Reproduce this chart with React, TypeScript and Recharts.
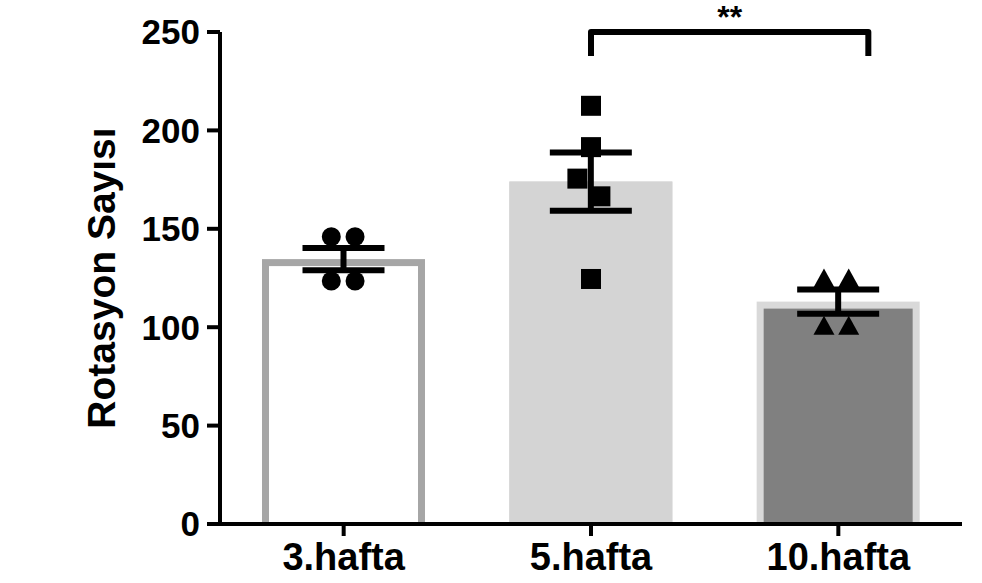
import React from 'react';
import { ComposedChart, Bar, XAxis, YAxis, Scatter, ErrorBar, ReferenceLine, Label } from 'recharts';

// ---- data ----
const categories = ['3.hafta', '5.hafta', '10.hafta'];
const means = [134.6, 174.0, 113.0];
const sems = [5.7, 14.8, 6.2];
const week3Points = [146, 146, 123.5, 123.5];
const week5Points = [212.5, 191.5, 175.5, 166.5, 124.5];
const week10Points = [125, 125, 101, 101];
const week3Jitter = [-0.05, 0.046, -0.05, 0.046];
const week5Jitter = [0, 0, -0.055, 0.038, 0];
const week10Jitter = [-0.058, 0.042, -0.058, 0.042];
const yTicks = [0, 50, 100, 150, 200, 250];
const yLabel = 'Rotasyon Sayısı';
const significance = { from: '5.hafta', to: '10.hafta', level: 250, text: '**' };

// ---- styles ----
const FONT = '"Liberation Sans", Arial, sans-serif';
const BAR_STYLES = [
  { fill: '#ffffff', border: '#a6a6a6', bw: 7 },
  { fill: '#d4d4d4', border: '#d4d4d4', bw: 0 },
  { fill: '#808080', border: '#d9d9d9', bw: 7 },
];

const barData = categories.map((c, i) => ({ name: c, mean: means[i], sem: sems[i] }));
const toPoints = (vals: number[], jit: number[], gi: number) =>
  vals.map((v, i) => ({ x: gi + jit[i], y: v }));
const pts3 = toPoints(week3Points, week3Jitter, 0);
const pts5 = toPoints(week5Points, week5Jitter, 1);
const pts10 = toPoints(week10Points, week10Jitter, 2);

const BarShape = (props: any) => {
  const { x, y, width, height, payload } = props;
  const idx = Math.max(0, categories.indexOf(payload?.name));
  const s = BAR_STYLES[idx];
  return (
    <g>
      <rect x={x} y={y} width={width} height={height} fill={s.border} />
      <rect
        x={x + s.bw}
        y={y + s.bw}
        width={Math.max(0, width - 2 * s.bw)}
        height={Math.max(0, height - s.bw)}
        fill={s.fill}
      />
    </g>
  );
};

const CircleShape = (p: any) => <circle cx={p.cx} cy={p.cy} r={9.5} fill="#000" />;
const SquareShape = (p: any) => <rect x={p.cx - 10} y={p.cy - 10} width={20} height={20} fill="#000" />;
const TriangleShape = (p: any) => (
  <polygon
    points={`${p.cx},${p.cy - 9.5} ${p.cx - 10.5},${p.cy + 9.5} ${p.cx + 10.5},${p.cy + 9.5}`}
    fill="#000"
  />
);

const BracketShape = (p: any) => {
  const { x1, y1, x2 } = p;
  const right = x2 + 30;
  const d = `M${x1},${y1 + 24} L${x1},${y1} L${right},${y1} L${right},${y1 + 24}`;
  return (
    <g>
      <path d={d} stroke="#000" strokeWidth={6} fill="none" strokeLinejoin="round" />
      <text
        x={(x1 + right) / 2}
        y={y1 - 4}
        textAnchor="middle"
        fontFamily={FONT}
        fontWeight="bold"
        fontSize={32}
        fill="#000"
      >
        {significance.text}
      </text>
    </g>
  );
};

const YLabelContent = (props: any) => {
  const vb = props.viewBox || { x: 0, y: 0, width: 0, height: 0 };
  const cx = vb.x + 101;
  const cy = vb.y + vb.height / 2;
  return (
    <text
      x={cx}
      y={cy}
      dy="0.355em"
      transform={`rotate(-90 ${cx} ${cy})`}
      textAnchor="middle"
      fontFamily={FONT}
      fontWeight="bold"
      fontSize={39}
      fill="#000"
    >
      {yLabel}
    </text>
  );
};

export default function App() {
  return (
    <div style={{ position: 'absolute', left: 0, top: 0, width: 982, height: 583, background: '#fff' }}>
      <ComposedChart
        width={982}
        height={583}
        data={barData}
        margin={{ top: 32, right: 20, bottom: 0, left: 0 }}
        barSize={163}
      >
        <XAxis
          dataKey="name"
          type="category"
          height={59}
          padding={{ left: 0, right: 0 }}
          axisLine={{ stroke: '#000', strokeWidth: 4 }}
          tickLine={{ stroke: '#000', strokeWidth: 4 }}
          tickSize={12}
          tickMargin={7}
          tick={{ fill: '#000', fontSize: 38, fontWeight: 'bold', fontFamily: FONT }}
          interval={0}
        />
        <XAxis xAxisId="num" dataKey="x" type="number" domain={[-0.5, 2.5]} hide allowDataOverflow />
        <YAxis
          width={220}
          domain={[0, 250]}
          ticks={yTicks}
          interval={0}
          axisLine={{ stroke: '#000', strokeWidth: 4 }}
          tickLine={{ stroke: '#000', strokeWidth: 4 }}
          tickSize={13}
          tickMargin={7}
          tick={{ fill: '#000', fontSize: 35, fontWeight: 'bold', fontFamily: FONT }}
        >
          <Label content={YLabelContent} />
        </YAxis>
        <Bar dataKey="mean" shape={BarShape} isAnimationActive={false}>
          <ErrorBar dataKey="sem" width={41} strokeWidth={6} stroke="#000" direction="y" />
        </Bar>
        <Scatter xAxisId="num" data={pts3} dataKey="y" shape={CircleShape} isAnimationActive={false} />
        <Scatter xAxisId="num" data={pts5} dataKey="y" shape={SquareShape} isAnimationActive={false} />
        <Scatter xAxisId="num" data={pts10} dataKey="y" shape={TriangleShape} isAnimationActive={false} />
        <ReferenceLine
          segment={[
            { x: significance.from, y: significance.level },
            { x: significance.to, y: significance.level },
          ]}
          ifOverflow="visible"
          shape={BracketShape}
        />
      </ComposedChart>
    </div>
  );
}
